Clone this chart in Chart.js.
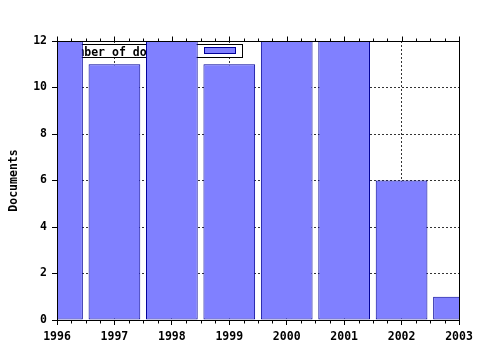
<!DOCTYPE html>
<html>
<head>
<meta charset="utf-8">
<script src="https://cdn.jsdelivr.net/npm/chart.js@4/dist/chart.umd.min.js"></script>
<style>
html,body{margin:0;padding:0;background:#fff;}
canvas{display:block;}
</style>
</head>
<body>
<canvas id="c" width="480" height="350"></canvas>
<script>
// ---- data ----
const years = [1996, 1997, 1998, 1999, 2000, 2001, 2002, 2003];
const documents = [12, 11, 12, 11, 12, 12, 6, 1];
const yTicks = [0, 2, 4, 6, 8, 10, 12];
const seriesLabel = 'Number of documents';
const yTitle = 'Documents';
const minorSteps = [0.25, 0.5, 0.75];

const FAMILY = '"DejaVu Sans Mono", monospace';
const FSIZE = 11.5;
const FONT = 'bold ' + FSIZE + 'px ' + FAMILY;

const framePlugin = {
  id: 'frame',
  beforeDatasetsDraw(chart) {
    // legend box (drawn behind the bars, like the original)
    const {ctx, chartArea} = chart;
    const ds = chart.data.datasets[0];
    ctx.save();
    ctx.font = FONT;
    const tw = ctx.measureText(ds.label).width;
    const boxL = chartArea.left + 2.5;
    const boxT = chartArea.top + 3.5;
    const textL = boxL + 4;
    const sampL = Math.round(textL + tw + 9) + 0.5;
    const sampW = 31, sampH = 6;
    const boxR = sampL + sampW + 7;
    const boxH = 13;
    ctx.fillStyle = '#fff';
    ctx.fillRect(boxL, boxT, boxR - boxL, boxH);
    ctx.strokeStyle = '#000';
    ctx.lineWidth = 1;
    ctx.strokeRect(boxL, boxT, boxR - boxL, boxH);
    ctx.fillStyle = '#000';
    ctx.textBaseline = 'alphabetic';
    ctx.textAlign = 'left';
    ctx.fillText(ds.label, textL, boxT + 11);
    ctx.fillStyle = ds.backgroundColor;
    ctx.fillRect(sampL, boxT + 3, sampW, sampH);
    ctx.strokeStyle = ds.borderColor;
    ctx.strokeRect(sampL, boxT + 3, sampW, sampH);
    ctx.restore();
  },
  afterDatasetsDraw(chart) {
    const {ctx, chartArea, scales} = chart;
    const x = scales.x;
    ctx.save();
    ctx.strokeStyle = '#000';
    ctx.lineWidth = 1;
    const L = Math.round(chartArea.left) + 0.5;
    const R = Math.round(chartArea.right) + 0.5;
    const T = Math.round(chartArea.top) + 0.5;
    const B = Math.round(chartArea.bottom) + 0.5;
    ctx.strokeRect(L, T, R - L, B - T);
    ctx.beginPath();
    // major ticks on top axis
    years.forEach(v => {
      const px = Math.round(x.getPixelForValue(v)) + 0.5;
      ctx.moveTo(px, T); ctx.lineTo(px, T - 5);
    });
    // minor ticks top & bottom
    for (let i = 0; i < years.length - 1; i++) {
      minorSteps.forEach(f => {
        const px = Math.round(x.getPixelForValue(years[i] + f)) + 0.5;
        ctx.moveTo(px, T); ctx.lineTo(px, T - 3);
        ctx.moveTo(px, B); ctx.lineTo(px, B + 3);
      });
    }
    ctx.stroke();
    ctx.restore();
  }
};

new Chart(document.getElementById('c'), {
  type: 'bar',
  data: {
    datasets: [{
      label: seriesLabel,
      data: years.map((yr, i) => ({x: yr, y: documents[i]})),
      backgroundColor: '#8080ff',
      borderColor: '#000099',
      borderWidth: 1,
      borderSkipped: false,
      barPercentage: 0.9,
      categoryPercentage: 1.0,
      clip: 0
    }]
  },
  options: {
    responsive: false,
    animation: false,
    events: [],
    layout: {padding: {top: 41, right: 21, left: 0, bottom: 0}},
    plugins: {legend: {display: false}, tooltip: {enabled: false}},
    scales: {
      x: {
        type: 'linear',
        offset: false,
        min: years[0],
        max: years[years.length - 1],
        afterBuildTicks: s => { s.ticks = years.map(v => ({value: v})); },
        afterFit: s => { s.height = 30; },
        ticks: {
          autoSkip: false, maxRotation: 0, minRotation: 0,
          padding: 5,
          color: '#000',
          font: {family: FAMILY, size: FSIZE, weight: 'bold'},
          callback: v => String(v)
        },
        grid: {
          offset: false,
          color: '#333',
          lineWidth: 1,
          drawTicks: true,
          tickLength: 5,
          tickColor: '#000',
          tickWidth: 1,
          tickBorderDash: []
        },
        border: {display: true, color: '#000', width: 1, dash: [2, 2]}
      },
      y: {
        type: 'linear',
        min: yTicks[0],
        max: yTicks[yTicks.length - 1],
        afterBuildTicks: s => { s.ticks = yTicks.map(v => ({value: v})); },
        afterFit: s => { s.width = 57; },
        ticks: {
          padding: 5,
          color: '#000',
          font: {family: FAMILY, size: FSIZE, weight: 'bold'}
        },
        grid: {
          color: '#333',
          lineWidth: 1,
          drawTicks: true,
          tickLength: 5,
          tickColor: '#000',
          tickWidth: 1,
          tickBorderDash: []
        },
        border: {display: true, color: '#000', width: 1, dash: [2, 2]},
        title: {
          display: true,
          text: yTitle,
          color: '#000',
          font: {family: FAMILY, size: FSIZE, weight: 'bold'},
          padding: {top: 7, bottom: 0}
        }
      }
    }
  },
  plugins: [framePlugin]
});
</script>
</body>
</html>
